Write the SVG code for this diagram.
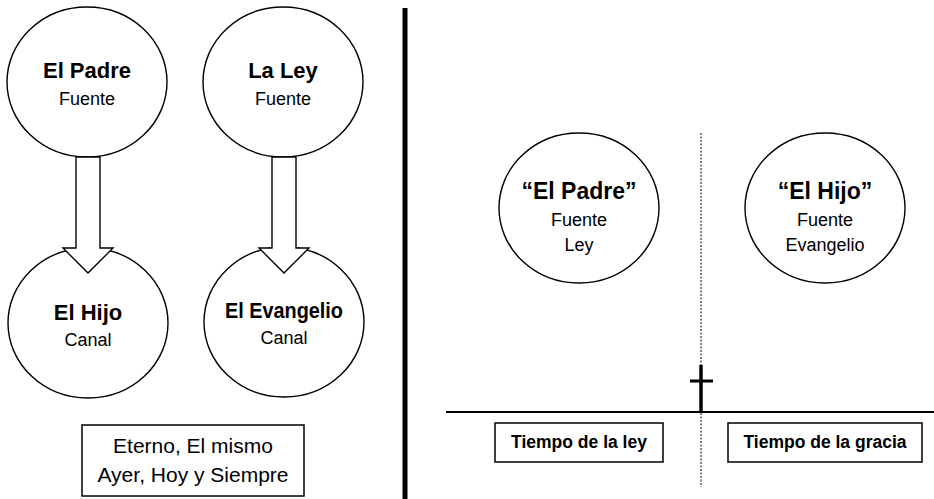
<svg xmlns="http://www.w3.org/2000/svg" width="934" height="499" viewBox="0 0 934 499">
<style>
.node{fill:#fff;stroke:#000;stroke-width:1.4}
.arrow{fill:#fff;stroke:#000;stroke-width:1.4;stroke-linejoin:miter}
.t{font-family:"Liberation Sans",Arial,sans-serif;fill:#000;text-anchor:middle}
.b{font-weight:bold;font-size:22px}
.b2{font-weight:bold;font-size:23px}
.r{font-size:18px}
.e{font-size:21px}
.bx{font-weight:bold;font-size:17.5px}
.box{fill:#fff;stroke:#000;stroke-width:1.5}
</style>
<rect width="934" height="499" fill="#fff"/>
<g id="padre">
<ellipse class="node" cx="87" cy="82" rx="80" ry="75"/>
<text class="t b" x="87" y="78">El Padre</text>
<text class="t r" x="87" y="105">Fuente</text>
</g>
<g id="ley">
<ellipse class="node" cx="283" cy="82" rx="80" ry="75"/>
<text class="t b" x="283" y="78">La Ley</text>
<text class="t r" x="283" y="105">Fuente</text>
</g>
<g id="hijo">
<ellipse class="node" cx="88" cy="323" rx="80" ry="75"/>
<text class="t b" x="88" y="320">El Hijo</text>
<text class="t r" x="88" y="346">Canal</text>
</g>
<g id="evangelio">
<ellipse class="node" cx="284" cy="322" rx="80" ry="75"/>
<text class="t b" x="284" y="318" textLength="118" lengthAdjust="spacingAndGlyphs">El Evangelio</text>
<text class="t r" x="284" y="344">Canal</text>
</g>
<g id="connectors">
<path class="arrow" d="M76,157 L100,157 L100,248 L113,248 L88,273 L63,248 L76,248 Z"/>
<path class="arrow" d="M272,157 L296,157 L296,248 L309,248 L284,273 L259,248 L272,248 Z"/>
</g>
<g id="eterno">
<rect class="box" x="82" y="425" width="222" height="71"/>
<text class="t e" x="193" y="453">Eterno, El mismo</text>
<text class="t e" x="193" y="482">Ayer, Hoy y Siempre</text>
</g>
<line x1="405" y1="8" x2="405" y2="499" stroke="#000" stroke-width="5"/>
<line x1="701" y1="133" x2="701" y2="487" stroke="#000" stroke-width="1" stroke-dasharray="2,1.5"/>
<line x1="446" y1="412" x2="934" y2="412" stroke="#000" stroke-width="2"/>
<g id="cruz">
<line x1="701" y1="365" x2="701" y2="413" stroke="#000" stroke-width="3.5"/>
<line x1="690" y1="381" x2="713" y2="381" stroke="#000" stroke-width="3"/>
</g>
<g id="padre2">
<ellipse class="node" cx="579" cy="208" rx="80" ry="75"/>
<text class="t b2" x="579" y="199">“El Padre”</text>
<text class="t r" x="579" y="226">Fuente</text>
<text class="t r" x="579" y="251">Ley</text>
</g>
<g id="hijo2">
<ellipse class="node" cx="825" cy="208" rx="80" ry="75"/>
<text class="t b2" x="825" y="199">“El Hijo”</text>
<text class="t r" x="825" y="226">Fuente</text>
<text class="t r" x="825" y="251">Evangelio</text>
</g>
<g id="tiempo-ley">
<rect class="box" x="495" y="423" width="168" height="39"/>
<text class="t bx" x="579" y="448">Tiempo de la ley</text>
</g>
<g id="tiempo-gracia">
<rect class="box" x="728" y="423" width="194" height="39"/>
<text class="t bx" x="825" y="448">Tiempo de la gracia</text>
</g>
</svg>
